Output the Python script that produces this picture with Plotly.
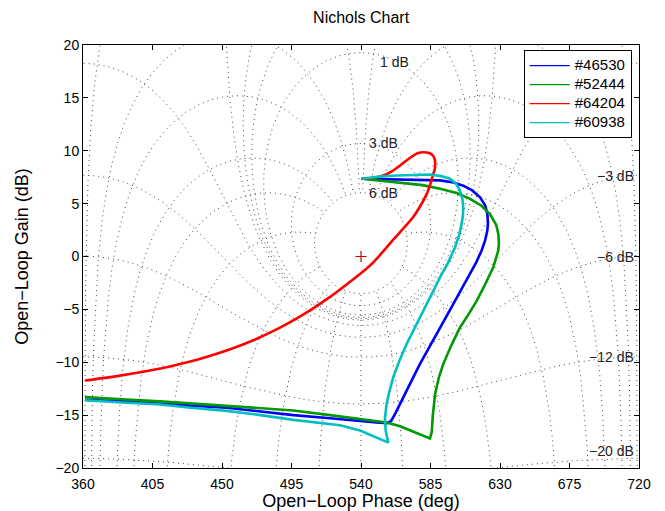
import numpy as np
import plotly.graph_objects as go

# ---- open-loop frequency responses: phase (deg) and gain (dB) ----
names = ["#46530", "#52444", "#64204", "#60938"]
colors = ["#0000ff", "#009900", "#ff0000", "#00bfbf"]

phase_46530 = [540.4, 556, 573.9, 591.2, 600, 606.2, 612, 617.1, 620.5, 621.8, 622.2, 621.8, 620.3, 618.1,
               614.6, 610.6, 605.3, 599.8, 594.4, 589.0, 583.6, 578.2, 573.9, 569.6, 565.3, 562.0,
               559.5, 557.0, 550, 540, 520, 496.2, 475, 453, 430, 409.9, 385, 361.3]
gain_46530 = [7.35, 7.32, 7.25, 7.2, 7.0, 6.7, 6.25, 5.6, 4.8, 4.0, 3.2, 2.46, 1.5, 0.57,
              -0.55, -1.64, -3.05, -4.47, -5.9, -7.3, -8.7, -10.15, -11.4, -12.7, -13.9, -14.9,
              -15.55, -15.75, -15.7, -15.55, -15.3, -15.0, -14.65, -14.3, -14.1, -13.9, -13.7, -13.55]

phase_52444 = [540.4, 563.1, 580, 591.2, 602, 610.6, 618, 623.5, 627.5, 628.9, 629.3, 628.9, 625.7,
               620.5, 614.9, 609.5, 604.1, 598.5, 593.3, 590.5, 588, 586.5, 585.8, 584.7, 575,
               565.3, 556.6, 540, 520, 496.2, 475, 453, 430, 409.9, 385, 361.3]
gain_52444 = [7.35, 7.0, 6.75, 6.4, 6.0, 5.45, 4.8, 4.0, 3.0, 2.15, 1.3, 0.57, -1.0,
              -2.6, -4.2, -5.5, -6.7, -8.4, -10.15, -11.4, -13.0, -15.0, -16.6, -17.2, -16.6,
              -16.05, -15.7, -15.35, -15.0, -14.56, -14.35, -14.1, -13.9, -13.7, -13.5, -13.3]

phase_64204 = [540.4, 548, 554.4, 560, 565.3, 570, 573.9, 577, 580.4, 583.5, 585.8, 587.5, 588,
               587.8, 586.8, 585, 582.5, 578.5, 573.9, 567.5, 560.9, 554.5, 548, 541.5, 535,
               525, 516.7, 508, 498.4, 485, 470.3, 458, 446.6, 435, 422.8, 411, 399, 380, 361.3]
gain_64204 = [7.35, 7.45, 7.66, 8.05, 8.6, 9.15, 9.55, 9.78, 9.86, 9.8, 9.65, 9.3, 8.9,
              8.3, 7.8, 6.9, 5.9, 4.8, 3.75, 2.65, 1.6, 0.5, -0.55, -1.4, -2.15,
              -3.28, -4.15, -5.0, -5.85, -6.92, -7.92, -8.63, -9.2, -9.71, -10.17, -10.56, -10.9, -11.36, -11.73]

phase_60938 = [540.4, 552, 563.1, 575, 584.7, 592, 597.6, 601.5, 604.1, 605.7, 606.2, 606, 605.2,
               603.5, 600.9, 596.5, 591.2, 586, 580.3, 575, 569.6, 565, 560.9, 558.5, 556.6,
               555.5, 556, 557.7, 548, 539.4, 526.4, 496.2, 475, 453, 430, 409.9, 385, 361.3]
gain_60938 = [7.35, 7.55, 7.66, 7.72, 7.75, 7.6, 7.35, 6.9, 6.24, 5.4, 4.66, 3.9, 3.1,
              2.0, 0.88, -0.55, -1.96, -3.5, -5.1, -6.6, -8.25, -9.8, -11.4, -12.7, -13.9,
              -15.3, -16.5, -17.6, -17.0, -16.45, -15.95, -15.45, -15.0, -14.6, -14.3, -14.0, -13.8, -13.6]

series_phase = [phase_46530, phase_52444, phase_64204, phase_60938]
series_gain = [gain_46530, gain_52444, gain_64204, gain_60938]
series_shape = ["linear", "linear", "spline", "linear"]

# ---- Nichols grid: closed-loop gain (dB) and closed-loop phase (deg) contours ----
grid_gains_db = [6, 3, 1, 0.5, 0.25, 0, -1, -3, -6, -12, -20]
grid_phases = [-1, -5, -10, -20, -30, -50, -90, -120, -150, -180,
               -210, -240, -270, -310, -330, -340, -350, -355, -359]

# labelled contours and label placement (phase, gain)
label_text = ["1 dB", "3 dB", "6 dB", "\u22123 dB", "\u22126 dB", "\u221212 dB", "\u221220 dB"]
label_phase = [551, 544, 544, 720, 720, 720, 720]
label_gain = [18.35, 10.69, 6.02, 7.66, 0.0, -9.54, -18.35]


def open_loop(T):
    """Open-loop response L from closed-loop T = L/(1+L)."""
    L = T / (1 - T)
    ph = np.mod(np.degrees(np.angle(L)), 360.0) + 360.0
    with np.errstate(divide="ignore"):
        g = 20 * np.log10(np.abs(L))
    return ph, g


def broken(ph, g):
    """Insert gaps where the wrapped phase jumps across the period."""
    xs, ys = [ph[0]], [g[0]]
    for i in range(1, len(ph)):
        if abs(ph[i] - ph[i - 1]) > 180:
            xs.append(None)
            ys.append(None)
        xs.append(ph[i])
        ys.append(g[i])
    xs.append(None)
    ys.append(None)
    return xs, ys


gx, gy = [], []
phi = np.radians(np.linspace(-359.95, -0.05, 3000))
for gdb in grid_gains_db:
    m = 10 ** (gdb / 20)
    ph, g = open_loop(m * np.exp(1j * phi))
    g = np.clip(g, -60, 60)
    x, y = broken(ph, g)
    gx += x
    gy += y

# phase contours run up to the largest closed-loop gain contour
mags = np.logspace(-4, max(grid_gains_db) / 20, 3000)
for p in grid_phases:
    ph, g = open_loop(mags * np.exp(1j * np.radians(p)))
    g = np.clip(g, -60, 60)
    x, y = broken(ph, g)
    gx += x
    gy += y

fig = go.Figure()
fig.add_trace(go.Scatter(x=gx, y=gy, mode="lines", hoverinfo="skip", showlegend=False,
                         line=dict(color="#444444", width=1, dash="1px,4px")))

for ph, g, c, s in zip(series_phase, series_gain, colors, series_shape):
    fig.add_trace(go.Scatter(x=ph, y=g, mode="lines", showlegend=False,
                             line=dict(color=c, width=2.6, shape=s, smoothing=0.5)))

# legend entries drawn with thin lines
for n, c in zip(names, colors):
    fig.add_trace(go.Scatter(x=[None], y=[None], mode="lines",
                             name='<span style="font-size:15px">%s</span>' % n,
                             line=dict(color=c, width=1.3)))

# critical point
fig.add_trace(go.Scatter(x=[540], y=[0], mode="markers", showlegend=False,
                         marker=dict(symbol="cross-thin", size=8, line=dict(color="#cc0000", width=1.2))))

font = "Liberation Sans, Arial, sans-serif"
for t, xp, yp in zip(label_text, label_phase, label_gain):
    right = xp >= 720
    fig.add_annotation(x=xp, y=yp, text=t, showarrow=False,
                       xanchor="right" if right else "left", yanchor="middle",
                       xshift=-3 if right else 0,
                       font=dict(family=font, size=14, color="#222"))

axis_common = dict(showline=True, linecolor="black", linewidth=1, mirror="ticks",
                   ticks="inside", ticklen=5, tickcolor="black", showgrid=False, zeroline=False,
                   automargin=False,
                   tickfont=dict(family=font, size=14, color="black"))

fig.update_layout(
    width=665, height=511,
    margin=dict(l=83, r=26, t=45, b=43),
    paper_bgcolor="white", plot_bgcolor="white",
    title=dict(text="Nichols Chart", x=0.543, xanchor="center", y=0.965, yanchor="middle",
               font=dict(family=font, size=16, color="black")),
    xaxis=dict(range=[360, 720], tickvals=list(range(360, 721, 45)), ticklabelstandoff=3,
               title=dict(text="Open\u2212Loop Phase (deg)", standoff=7,
                          font=dict(family=font, size=18, color="black")), **axis_common),
    yaxis=dict(range=[-20, 20], tickvals=list(range(-20, 21, 5)),
               title=dict(text="Open\u2212Loop Gain (dB)", standoff=22,
                          font=dict(family=font, size=18, color="black")), **axis_common),
    legend=dict(x=0.987, y=0.988, xanchor="right", yanchor="top", bgcolor="white",
                bordercolor="black", borderwidth=1, font=dict(family=font, size=12, color="black"),
                tracegroupgap=0, itemwidth=40),
    showlegend=True,
)

fig.write_html("out.html")
